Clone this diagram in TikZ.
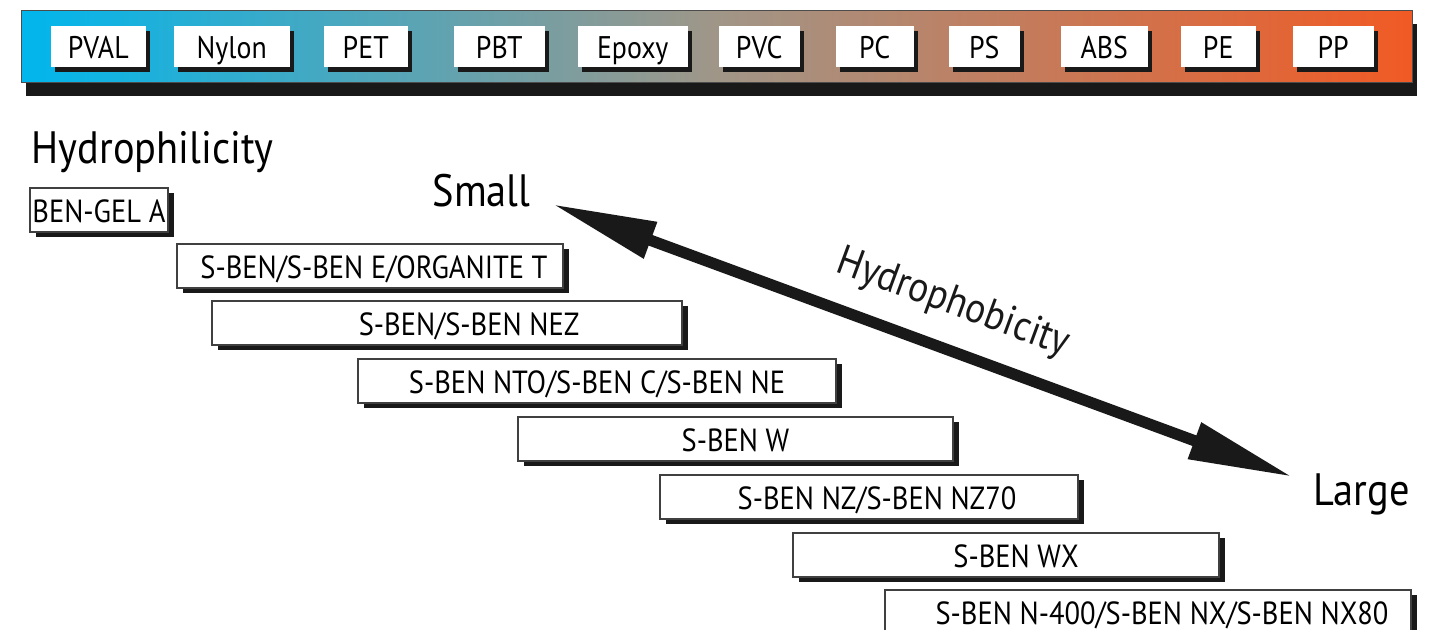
\documentclass[tikz,border=0pt]{standalone}
\usepackage{fontspec}
\setmainfont{PT Sans}[FakeStretch=0.89]
\usetikzlibrary{arrows.meta,shadows}
\definecolor{barcyan}{RGB}{0,182,237}
\definecolor{barmid}{RGB}{160,150,136}
\definecolor{barorange}{RGB}{241,90,36}
\newdimen\twopx \twopx=0.569pt
\tikzset{
  resin/.style={fill=white, inner sep=0pt, minimum height=4.1mm,
    text height=0.7em, text depth=0pt, font=\fontsize{8.9}{10}\selectfont,
    drop shadow={shadow xshift=0.4mm, shadow yshift=-0.5mm, fill=black!90, opacity=1}},
  grade/.style={draw=black!75, line width=0.5pt, fill=white, inner sep=0pt,
    minimum height=4.4mm, text height=0.7em, text depth=0pt,
    font=\fontsize{9.1}{11}\selectfont,
    drop shadow={shadow xshift=0.6mm, shadow yshift=-0.5mm, fill=black!90, opacity=1}},
  bigtext/.style={inner sep=0pt, font=\fontsize{12.9}{15}\selectfont},
  hyarrow/.style={line width=3.2pt, black!90,
    {Triangle[length=10.5mm, width=3.6mm]}-{Triangle[length=10.5mm, width=3.6mm]}},
}
\begin{document}
\begin{tikzpicture}[x=0.01cm, y=-0.01cm]
  \useasboundingbox (0,0) rectangle (1432,630);
  % resin bar
  \node[draw=black!70, line width=0.4pt, inner sep=0pt, anchor=north west,
        minimum width=13.9cm, minimum height=7.2mm,
        left color=barcyan, right color=barorange, middle color=barmid,
        drop shadow={shadow xshift=0.4mm, shadow yshift=-1.3mm, fill=black!90, opacity=1}]
        (bar) at (21,10) {};
  \foreach \lbl/\lx/\w [count=\n] in {
        PVAL/50/95, Nylon/173/116, PET/323/84, PBT/453/91, Epoxy/577/110,
        PVC/718/81, PC/835/78, PS/948/71, ABS/1060/87, PE/1180/75, PP/1292/81
  } {
       \node[resin, minimum width=\w*0.1mm, anchor=west] (resin\n) at (\lx,46.5) {\lbl};
  }
  % grades
  \node[bigtext, anchor=base west] (hphil) at (31,163) {Hydrophilicity};
  \foreach \lbl/\lx/\rx/\ty/\dx [count=\n] in {
        {BEN-GEL A}/29/167/187/0,
        {S-BEN/S-BEN E/ORGANITE T}/176/562/243/4,
        {S-BEN/S-BEN NEZ}/211/681/300/22,
        {S-BEN NTO/S-BEN C/S-BEN NE}/357/835/358/0,
        {S-BEN W}/517/952/416/0,
        {S-BEN NZ/S-BEN NZ70}/659/1077/474/8,
        {S-BEN WX}/792/1218/532/10,
        {S-BEN N-400/S-BEN NX/S-BEN NX80}/884/1410/589/14
  } {
       \node[grade, minimum width=(\rx-\lx)*0.1mm, anchor=north west]
             (grade\n) at (\lx,\ty) {\kern\dx\twopx\lbl};
  }
  % hydrophobicity arrow
  \node[bigtext, anchor=base west] (small) at (432,206) {Small};
  \node[bigtext, anchor=base west] (large) at (1313,505) {Large};
  \coordinate (smalltip) at (552,204);
  \coordinate (largetip) at (1293,477);
  \draw[hyarrow] (smalltip) -- node[sloped, pos=0.52, above=2mm, bigtext, font=\fontsize{12}{14}\selectfont] (hphob) {Hydrophobicity} (largetip);
\end{tikzpicture}
\end{document}
